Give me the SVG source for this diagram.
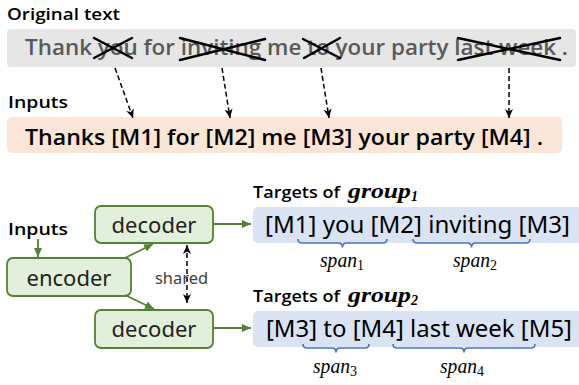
<svg xmlns="http://www.w3.org/2000/svg" width="579" height="385" viewBox="0 0 579 385">
<style>
.hdr{font-family:"Open Sans","Noto Sans",sans-serif;font-weight:600;font-size:17px;fill:#000}
.gray{font-family:"Open Sans","Noto Sans",sans-serif;font-weight:600;font-size:21px;fill:#595959}
.inp{font-family:"Open Sans","Noto Sans",sans-serif;font-weight:600;font-size:22px;fill:#000}
.tgt{font-family:"Noto Sans","Liberation Sans",sans-serif;font-size:24px;fill:#000}
.node{fill:#e2efda;stroke:#538135;stroke-width:1.8}
.ntxt{font-family:"Noto Sans","Liberation Sans",sans-serif;font-size:22px;fill:#222;text-anchor:middle}
.math{font-family:"Liberation Serif","DejaVu Serif",serif;font-style:italic}
.cross{stroke:#000;stroke-width:2.5;stroke-linecap:round;fill:none}
.dash{stroke:#000;stroke-width:1.5;stroke-dasharray:5,3;fill:none}
.garr{stroke:#538135;stroke-width:1.8;fill:none}
.brace{stroke:#4472c4;stroke-width:1.6;fill:none}
</style>
<defs>
<marker id="ah" markerWidth="10" markerHeight="10" refX="9" refY="5" orient="auto-start-reverse" markerUnits="userSpaceOnUse">
<path d="M0,1 L9,5 L0,9 L2.5,5 z" fill="#000"/>
</marker>
<marker id="gh" markerWidth="10" markerHeight="10" refX="9" refY="5" orient="auto" markerUnits="userSpaceOnUse">
<path d="M0,1 L9,5 L0,9 z" fill="#538135"/>
</marker>
</defs>

<g id="original">
<text class="hdr" x="7" y="20" textLength="113" lengthAdjust="spacingAndGlyphs">Original text</text>
<rect x="7" y="29" width="569" height="38" rx="4" fill="#e7e6e6"/>
<text class="gray" x="25" y="55" textLength="543" lengthAdjust="spacingAndGlyphs">Thank you for inviting me to your party last week .</text>
<line class="cross" x1="94" y1="38" x2="132" y2="58"/>
<line class="cross" x1="94" y1="58" x2="132" y2="38"/>
<line class="cross" x1="180" y1="38" x2="265" y2="60"/>
<line class="cross" x1="180" y1="60" x2="265" y2="39"/>
<line class="cross" x1="303" y1="39" x2="340" y2="58"/>
<line class="cross" x1="304" y1="58" x2="340" y2="38"/>
<line class="cross" x1="458" y1="38" x2="560" y2="60"/>
<line class="cross" x1="458" y1="60" x2="560" y2="38"/>
</g>

<g id="inputs">
<text class="hdr" x="8" y="108" textLength="60" lengthAdjust="spacingAndGlyphs">Inputs</text>
<rect x="7" y="117" width="555" height="36" rx="5" fill="#fbe5d6"/>
<text class="inp" x="25" y="145" textLength="518" lengthAdjust="spacingAndGlyphs">Thanks [M1] for [M2] me [M3] your party [M4] .</text>
</g>

<g id="inputs2">
<text class="hdr" x="8" y="235" textLength="60" lengthAdjust="spacingAndGlyphs">Inputs</text>
</g>

<g id="encoder">
<rect class="node" x="7" y="258" width="124" height="38" rx="6"/>
<text class="ntxt" x="69" y="286">encoder</text>
</g>

<g id="decoder1">
<rect class="node" x="95" y="206" width="118" height="37" rx="6"/>
<text class="ntxt" x="154" y="233">decoder</text>
</g>

<g id="decoder2">
<rect class="node" x="95" y="310" width="118" height="38" rx="6"/>
<text class="ntxt" x="154" y="337">decoder</text>
</g>

<g id="shared-label">
<text x="155" y="284" textLength="53" lengthAdjust="spacingAndGlyphs" font-family="Noto Sans, Liberation Sans, sans-serif" font-size="16" fill="#404040">shared</text>
</g>

<g id="target1">
<text class="hdr" x="253" y="198"><tspan textLength="87" lengthAdjust="spacingAndGlyphs">Targets of</tspan><tspan class="math" x="348" font-weight="bold" font-size="21" textLength="63" lengthAdjust="spacingAndGlyphs">group</tspan><tspan class="math" font-weight="bold" font-style="normal" font-size="14" dy="3">1</tspan></text>
<rect x="253" y="207" width="330" height="36" rx="5" fill="#dae3f3"/>
<text class="tgt" x="265" y="233" textLength="305" lengthAdjust="spacingAndGlyphs">[M1] you [M2] inviting [M3]</text>
<path class="brace" d="M298,239 q0,4 4,4 L338.5,243 q4,0 4,4.5 q0,-4.5 4,-4.5 L383,243 q4,0 4,-4"/>
<path class="brace" d="M413,239 q0,4 4,4 L467.5,243 q4,0 4,4.5 q0,-4.5 4,-4.5 L526,243 q4,0 4,-4"/>
<text class="math" x="320" y="267" font-size="20"><tspan textLength="37" lengthAdjust="spacingAndGlyphs">span</tspan><tspan font-style="normal" font-size="14" dy="3">1</tspan></text>
<text class="math" x="453" y="267" font-size="20"><tspan textLength="37" lengthAdjust="spacingAndGlyphs">span</tspan><tspan font-style="normal" font-size="14" dy="3">2</tspan></text>
</g>

<g id="target2">
<text class="hdr" x="253" y="302"><tspan textLength="87" lengthAdjust="spacingAndGlyphs">Targets of</tspan><tspan class="math" x="348" font-weight="bold" font-size="21" textLength="63" lengthAdjust="spacingAndGlyphs">group</tspan><tspan class="math" font-weight="bold" font-style="normal" font-size="14" dy="3">2</tspan></text>
<rect x="253" y="311" width="330" height="36" rx="5" fill="#dae3f3"/>
<text class="tgt" x="266" y="337" textLength="306" lengthAdjust="spacingAndGlyphs">[M3] to [M4] last week [M5]</text>
<path class="brace" d="M303,344 q0,4 4,4 L332,348 q4,0 4,4.5 q0,-4.5 4,-4.5 L365,348 q4,0 4,-4"/>
<path class="brace" d="M393,344 q0,4 4,4 L460,348 q4,0 4,4.5 q0,-4.5 4,-4.5 L531,348 q4,0 4,-4"/>
<text class="math" x="313" y="373" font-size="20"><tspan textLength="37" lengthAdjust="spacingAndGlyphs">span</tspan><tspan font-style="normal" font-size="14" dy="3">3</tspan></text>
<text class="math" x="440" y="373" font-size="20"><tspan textLength="37" lengthAdjust="spacingAndGlyphs">span</tspan><tspan font-style="normal" font-size="14" dy="3">4</tspan></text>
</g>

<g id="connectors">
<line class="dash" x1="115" y1="68" x2="133" y2="118" marker-end="url(#ah)"/>
<line class="dash" x1="222" y1="68" x2="230" y2="118" marker-end="url(#ah)"/>
<line class="dash" x1="321" y1="68" x2="329" y2="118" marker-end="url(#ah)"/>
<line class="dash" x1="509" y1="68" x2="509" y2="118" marker-end="url(#ah)"/>
<line class="garr" x1="38" y1="239" x2="38" y2="257" marker-end="url(#gh)"/>
<line class="garr" x1="125" y1="258" x2="153" y2="244" marker-end="url(#gh)"/>
<line class="garr" x1="125" y1="295" x2="154" y2="309" marker-end="url(#gh)"/>
<line class="garr" x1="213" y1="224" x2="251" y2="224" marker-end="url(#gh)"/>
<line class="garr" x1="213" y1="328" x2="251" y2="328" marker-end="url(#gh)"/>
<line class="dash" x1="187" y1="245" x2="187" y2="303" marker-start="url(#ah)" marker-end="url(#ah)"/>
</g>
</svg>
